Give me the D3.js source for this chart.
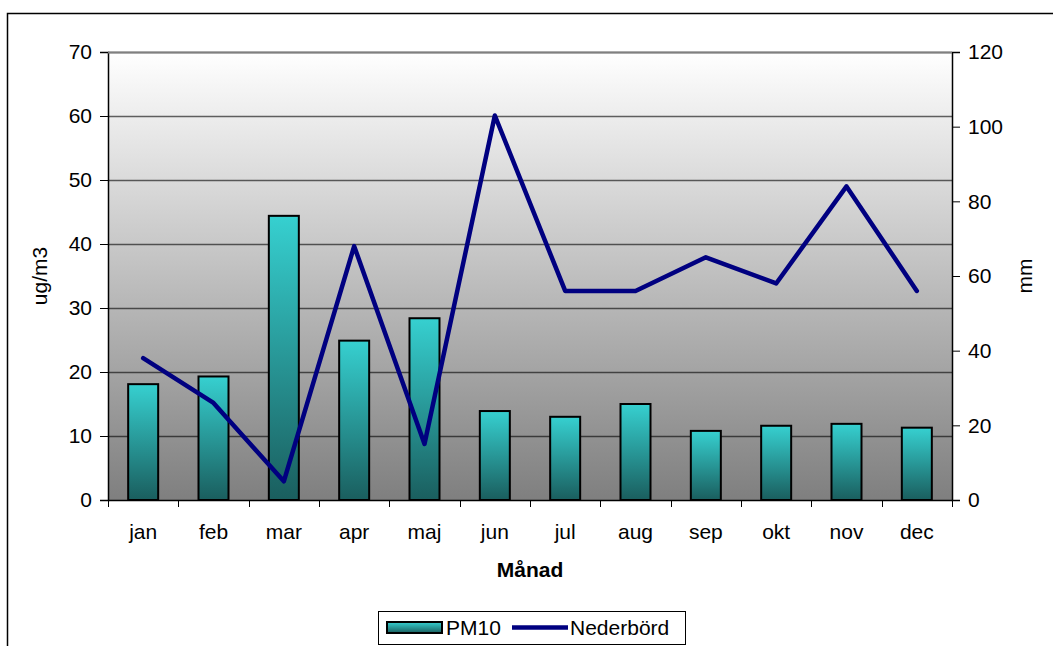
<!DOCTYPE html>
<html><head><meta charset="utf-8">
<script src="https://cdn.jsdelivr.net/npm/d3@7"></script>
<style>
body{margin:0;background:#fff}
svg{display:block}
text{font-family:"Liberation Sans",Arial,sans-serif;fill:#000}
</style>
</head><body>
<svg id="c" width="1053" height="646"></svg>
<script>
const months = ["jan","feb","mar","apr","maj","jun","jul","aug","sep","okt","nov","dec"];
const pm10 = [18.1,19.3,44.4,24.9,28.4,13.9,13.0,15.0,10.8,11.6,11.9,11.3];
const nederbord = [38,26,5,68,15,103,56,56,65,58,84,56];
const leftTicks = [0,10,20,30,40,50,60,70];
const rightTicks = [0,20,40,60,80,100,120];
const leftTitle = "ug/m3";
const rightTitle = "mm";
const xTitle = "Månad";
const seriesNames = ["PM10","Nederbörd"];

const svg = d3.select("#c");
const L = 108, R = 952, T = 52, B = 500;
const fs = 21;

const defs = svg.append("defs");
const bg = defs.append("linearGradient").attr("id","bg").attr("x1",0).attr("y1",0).attr("x2",0).attr("y2",1);
bg.append("stop").attr("offset","0%").attr("stop-color","#ffffff");
bg.append("stop").attr("offset","100%").attr("stop-color","#7f7f7f");
const bar = defs.append("linearGradient").attr("id","bar").attr("x1",0).attr("y1",0).attr("x2",0).attr("y2",1);
bar.append("stop").attr("offset","0%").attr("stop-color","#36d0d0");
bar.append("stop").attr("offset","100%").attr("stop-color","#1a5e5e");

// outer frame
svg.append("rect").attr("x",7.5).attr("y",13.5).attr("width",1100).attr("height",700)
  .attr("fill","none").attr("stroke","#000").attr("stroke-width",1.5);

const x = d3.scaleBand().domain(months).range([L,R]).paddingInner(0).paddingOuter(0);
const yL = d3.scaleLinear().domain([0,70]).range([B,T]);
const yR = d3.scaleLinear().domain([0,120]).range([B,T]);

// plot background
svg.append("rect").attr("x",L).attr("y",T).attr("width",R-L).attr("height",B-T).attr("fill","url(#bg)");

// gridlines
svg.append("g").selectAll("line").data(leftTicks.filter(d=>d>0)).join("line")
  .attr("x1",L).attr("x2",R)
  .attr("y1",d=>Math.round(yL(d))+0.5).attr("y2",d=>Math.round(yL(d))+0.5)
  .attr("stroke","#000").attr("stroke-opacity",0.6).attr("stroke-width",1.5);

// bars
const bw = 30;
svg.append("g").selectAll("rect").data(pm10).join("rect")
  .attr("x",(d,i)=>x(months[i])+x.bandwidth()/2-bw/2)
  .attr("y",d=>yL(d))
  .attr("width",bw)
  .attr("height",d=>B-yL(d))
  .attr("fill","url(#bar)")
  .attr("stroke","#000").attr("stroke-width",2);

// line
const line = d3.line().x((d,i)=>x(months[i])+x.bandwidth()/2).y(d=>yR(d));
svg.append("path").datum(nederbord).attr("d",line)
  .attr("fill","none").attr("stroke","#000080").attr("stroke-width",4.5)
  .attr("stroke-linejoin","round").attr("stroke-linecap","round");

// axes
const axL = svg.append("g").attr("transform",`translate(${L},0)`)
  .call(d3.axisLeft(yL).tickValues(leftTicks).tickSize(8).tickPadding(8));
const axR = svg.append("g").attr("transform",`translate(${R},0)`)
  .call(d3.axisRight(yR).tickValues(rightTicks).tickSize(8).tickPadding(8));
const axB = svg.append("g").attr("transform",`translate(0,${B})`)
  .call(d3.axisBottom(x).tickSize(0).tickPadding(24));
[axL,axR,axB].forEach(a=>{
  a.selectAll("text").attr("font-size",fs).attr("font-family","Liberation Sans, Arial, sans-serif").attr("fill","#000");
  a.select(".domain").attr("stroke","#000").attr("stroke-width",1.5);
  a.selectAll(".tick line").attr("stroke","#000");
});
axB.select(".domain").attr("d",`M${L},0.5H${R}`);
// bottom boundary ticks
svg.append("g").selectAll("line").data(d3.range(months.length+1)).join("line")
  .attr("x1",i=>Math.round(L+i*x.step())+0.5).attr("x2",i=>Math.round(L+i*x.step())+0.5)
  .attr("y1",B).attr("y2",B+7).attr("stroke","#000").attr("stroke-width",1);

// plot top border
svg.append("line").attr("x1",L).attr("x2",R).attr("y1",T+0.5).attr("y2",T+0.5)
  .attr("stroke","#808080").attr("stroke-width",2);

// titles
svg.append("text").attr("transform",`translate(47,${(T+B)/2}) rotate(-90)`)
  .attr("text-anchor","middle").attr("font-size",fs).text(leftTitle);
svg.append("text").attr("transform",`translate(1032,${(T+B)/2}) rotate(-90)`)
  .attr("text-anchor","middle").attr("font-size",fs).text(rightTitle);
svg.append("text").attr("x",(L+R)/2).attr("y",577).attr("text-anchor","middle")
  .attr("font-size",fs).attr("font-weight","bold").text(xTitle);

// legend
const lg = svg.append("g");
lg.append("rect").attr("x",378.5).attr("y",611.5).attr("width",307).attr("height",33)
  .attr("fill","#fff").attr("stroke","#000").attr("stroke-width",1);
lg.append("rect").attr("x",387).attr("y",622).attr("width",55).attr("height",11)
  .attr("fill","url(#bar)").attr("stroke","#000").attr("stroke-width",2);
lg.append("text").attr("x",446).attr("y",635).attr("font-size",fs).text(seriesNames[0]);
lg.append("line").attr("x1",512).attr("x2",568).attr("y1",627.5).attr("y2",627.5)
  .attr("stroke","#000080").attr("stroke-width",4.5);
lg.append("text").attr("x",570).attr("y",635).attr("font-size",fs).text(seriesNames[1]);
</script>
</body></html>
